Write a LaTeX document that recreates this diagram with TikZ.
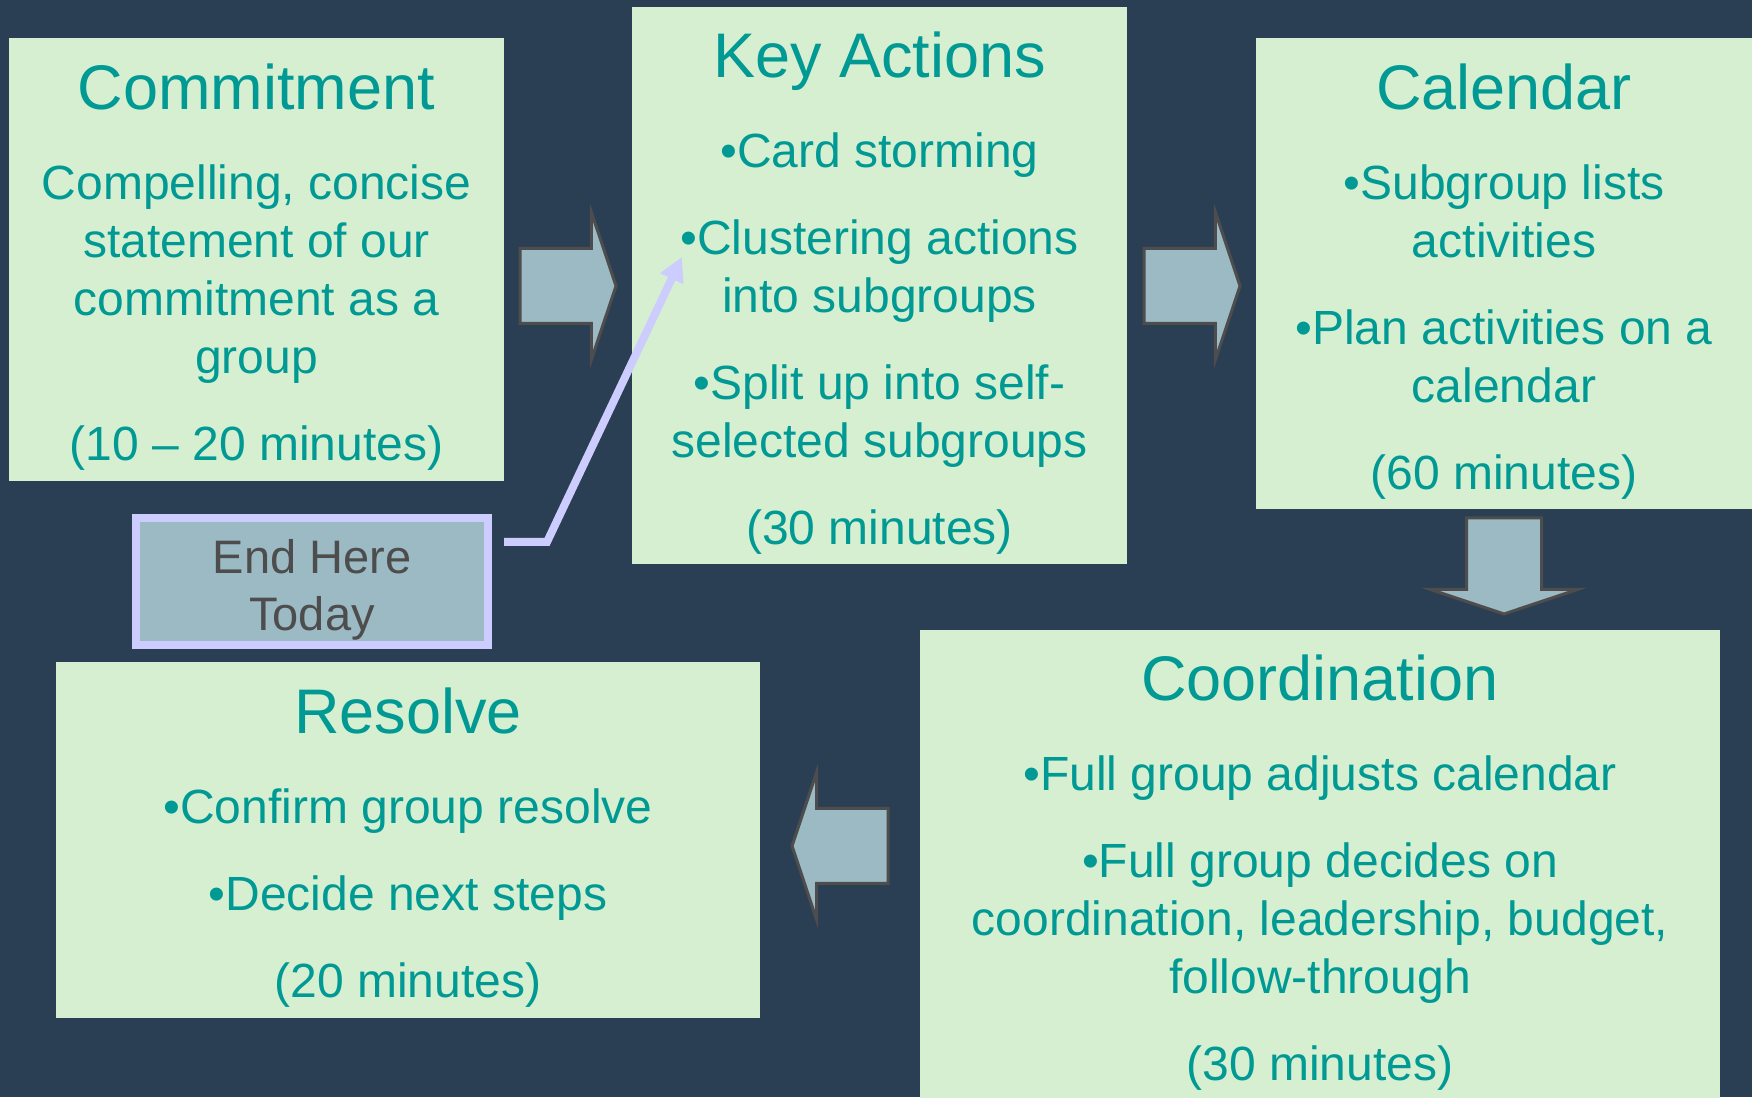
\documentclass[tikz,border=0pt]{standalone}
\usepackage{fontspec}
\setmainfont{Liberation Sans}
\usetikzlibrary{calc,shapes.arrows,arrows.meta}
\definecolor{slidebg}{RGB}{42,63,83}
\definecolor{boxgreen}{RGB}{214,239,208}
\definecolor{tealtext}{RGB}{0,153,148}
\definecolor{arrowblue}{RGB}{155,186,196}
\definecolor{edgegray}{RGB}{77,77,77}
\definecolor{lavender}{RGB}{204,204,255}
\newcommand{\boxtitle}[1]{{\fontsize{63}{76}\selectfont\rule{0pt}{61pt}#1}}

\begin{document}
\begin{tikzpicture}
        [x=1pt,y=1pt,
         stepbox/.style={rectangle, fill=boxgreen, text=tealtext, align=center,
            font=\fontsize{48}{58}\selectfont, inner sep=0pt},
         blockarrow/.style={single arrow, draw=edgegray, line width=3pt, fill=arrowblue,
            minimum height=96pt, inner xsep=0pt, inner ysep=36pt, outer sep=0pt,
            single arrow head extend=36pt, single arrow tip angle=143.1, anchor=tail},
         endbox/.style={rectangle, draw=lavender, line width=8pt, fill=arrowblue,
            text=edgegray, align=center, font=\fontsize{47}{57}\selectfont, inner sep=0pt},
         hereline/.style={draw=lavender, line width=8pt, -{Triangle[length=24pt,width=24pt]}}]
        \fill[slidebg] (0,0) rectangle (1752,1097);
        \useasboundingbox (0,0) rectangle (1752,1097);
        %-----steps
         \node[stepbox, minimum width=495pt, minimum height=443pt] (commit) at (256.5,837.5)
            {\boxtitle{Commitment}\\[32pt]Compelling, concise\\statement of our\\commitment as a\\group\\[29pt](10 – 20 minutes)};
         \node[stepbox, minimum width=495pt, minimum height=557pt] (keyact) at (879.5,811.5)
            {\boxtitle{Key Actions}\\[32pt]•Card storming\\[29pt]•Clustering actions\\into subgroups\\[29pt]•Split up into self-\\selected subgroups\\[29pt](30 minutes)};
         \node[stepbox, minimum width=496pt, minimum height=471pt] (calendar) at (1504,823.5)
            {\boxtitle{Calendar}\\[32pt]•Subgroup lists\\activities\\[29pt]•Plan activities on a\\calendar\\[29pt](60 minutes)};
         \node[stepbox, minimum width=800pt, minimum height=470pt] (coord) at (1320,232)
            {\boxtitle{Coordination}\\[32pt]•Full group adjusts calendar\\[29pt]•Full group decides on\\coordination, leadership, budget,\\follow-through\\[29pt](30 minutes)};
         \node[stepbox, minimum width=704pt, minimum height=356pt] (resolve) at (408,257)
            {\boxtitle{Resolve}\\[32pt]•Confirm group resolve\\[29pt]•Decide next steps\\[29pt](20 minutes)};
         \node[endbox, minimum width=352pt, minimum height=127pt] (endhere) at (312,515.5)
            {\rule{0pt}{50pt}End Here\\Today};

        %-----block arrows
         \node[blockarrow] (toact) at (520,811) {};
         \node[blockarrow] (tocal) at (1144,811) {};
         \node[blockarrow, rotate=-90] (tocoord) at (1504,579) {};
         \node[blockarrow, rotate=180] (toresolve) at (888,251) {};

         \coordinate (cluster) at (682,840);
         \draw[hereline] ($(endhere.north east)+(12,-28)$) -- ++(43,0) -- (cluster);

\end{tikzpicture}
\end{document}
